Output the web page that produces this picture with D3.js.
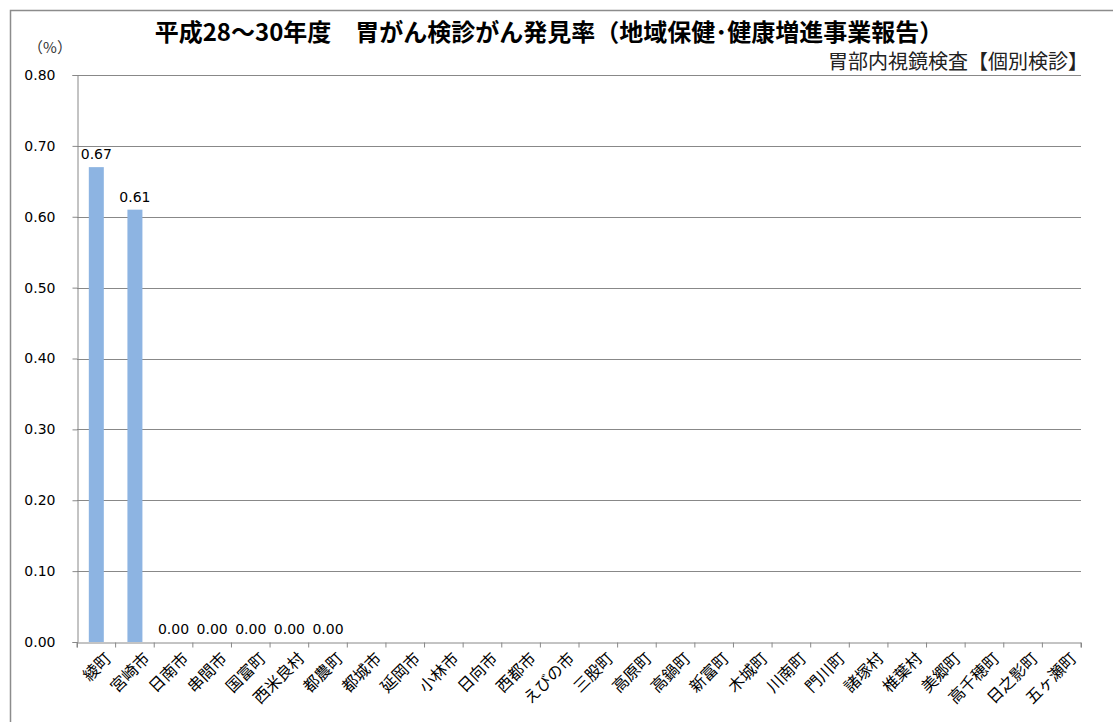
<!DOCTYPE html>
<html>
<head>
<meta charset="utf-8">
<script src="https://cdn.jsdelivr.net/npm/d3@7"></script>
<style>
  body { margin: 0; background: #fff; }
  text { font-family: "DejaVu Sans", Verdana, sans-serif; }
  .jp { font-family: "Noto Sans CJK JP", sans-serif; }
</style>
</head>
<body>
<script>
// chart data
var areas = ['綾町', '宮崎市', '日南市', '串間市', '国富町', '西米良村', '都農町', '都城市',
  '延岡市', '小林市', '日向市', '西都市', 'えびの市', '三股町', '高原町', '高鍋町', '新富町',
  '木城町', '川南町', '門川町', '諸塚村', '椎葉村', '美郷町', '高千穂町', '日之影町', '五ヶ瀬町'];
var rates = [0.67, 0.61, 0.00, 0.00, 0.00, 0.00, 0.00, null, null, null, null, null, null,
  null, null, null, null, null, null, null, null, null, null, null, null, null];
var yTicks = [0, 0.1, 0.2, 0.3, 0.4, 0.5, 0.6, 0.7, 0.8];

var W = 1113, H = 722;
var plot = { left: 77, right: 1081, top: 75, bottom: 642 };

var svg = d3.select('body').append('svg')
  .attr('width', W)
  .attr('height', H);

// outer chart frame (runs off the right / bottom)
svg.append('rect')
  .attr('x', 10.5).attr('y', 10.5)
  .attr('width', W + 20).attr('height', H + 20)
  .attr('fill', 'none').attr('stroke', '#8c8c8c').attr('stroke-width', 1.5);

var x = d3.scaleBand().domain(areas).range([plot.left, plot.right]);
var y = d3.scaleLinear().domain([0, 0.8]).range([plot.bottom, plot.top]);

// gridlines
svg.append('g').selectAll('line')
  .data(yTicks.slice(1))
  .enter().append('line')
  .attr('x1', plot.left).attr('x2', plot.right)
  .attr('y1', function(d) { return Math.round(y(d)) + 0.5; })
  .attr('y2', function(d) { return Math.round(y(d)) + 0.5; })
  .attr('stroke', '#888');

// y axis
var yAxis = svg.append('g')
  .attr('transform', 'translate(' + (plot.left + 0.5) + ',0)')
  .call(d3.axisLeft(y).tickValues(yTicks).tickFormat(d3.format('.2f')).tickSize(5).tickPadding(17));
yAxis.select('.domain').attr('stroke', '#888');
yAxis.selectAll('.tick line').attr('stroke', '#888');
yAxis.selectAll('text')
  .attr('fill', '#000')
  .style('font-size', '14px')
  .style('font-family', '"DejaVu Sans", Verdana, sans-serif');

// bars
svg.append('g').selectAll('rect')
  .data(areas)
  .enter().append('rect')
  .filter(function(d, i) { return rates[i] != null && rates[i] > 0; })
  .attr('x', function(d) { return x(d) + x.bandwidth() / 2 - 7.5; })
  .attr('y', function(d) { return y(rates[areas.indexOf(d)]); })
  .attr('width', 15)
  .attr('height', function(d) { return plot.bottom - y(rates[areas.indexOf(d)]); })
  .attr('fill', '#8db4e2');

// x axis
var xAxis = svg.append('g')
  .attr('transform', 'translate(0,' + (plot.bottom + 0.5) + ')')
  .call(d3.axisBottom(x).tickSize(5).tickSizeOuter(5));
xAxis.select('.domain').attr('stroke', '#888');
xAxis.selectAll('.tick line')
  .attr('stroke', '#888')
  .attr('transform', 'translate(' + (-x.bandwidth() / 2) + ',0)');
xAxis.append('line')
  .attr('x1', plot.right).attr('x2', plot.right).attr('y1', 0).attr('y2', 5)
  .attr('stroke', '#888');
xAxis.selectAll('.tick text')
  .attr('class', 'jp')
  .style('font-family', '"Noto Sans CJK JP", sans-serif')
  .style('font-size', '16px')
  .attr('fill', '#000')
  .attr('text-anchor', 'end')
  .attr('dy', null)
  .attr('y', 0)
  .attr('transform', 'translate(16,17) rotate(-45)');

// data labels
svg.append('g').selectAll('text')
  .data(areas)
  .enter().append('text')
  .filter(function(d, i) { return rates[i] != null; })
  .attr('x', function(d) { return x(d) + x.bandwidth() / 2; })
  .attr('y', function(d) { return y(rates[areas.indexOf(d)]) - 8; })
  .attr('text-anchor', 'middle')
  .style('font-size', '14px')
  .text(function(d) { return d3.format('.2f')(rates[areas.indexOf(d)]); });

// titles
svg.append('text')
  .attr('class', 'jp')
  .attr('x', 549).attr('y', 41)
  .attr('text-anchor', 'middle')
  .style('font-size', '24px')
  .attr('font-weight', 'bold')
  .text('平成28～30年度　胃がん検診がん発見率（地域保健･健康増進事業報告）');

svg.append('text')
  .attr('class', 'jp')
  .attr('x', plot.right + 7).attr('y', 69)
  .attr('text-anchor', 'end')
  .style('font-size', '20px')
  .attr('fill', '#222')
  .text('胃部内視鏡検査【個別検診】');

svg.append('text')
  .attr('class', 'jp')
  .attr('x', 50).attr('y', 53)
  .attr('text-anchor', 'middle')
  .style('font-size', '15px')
  .attr('fill', '#333')
  .text('（%）');
</script>
</body>
</html>
